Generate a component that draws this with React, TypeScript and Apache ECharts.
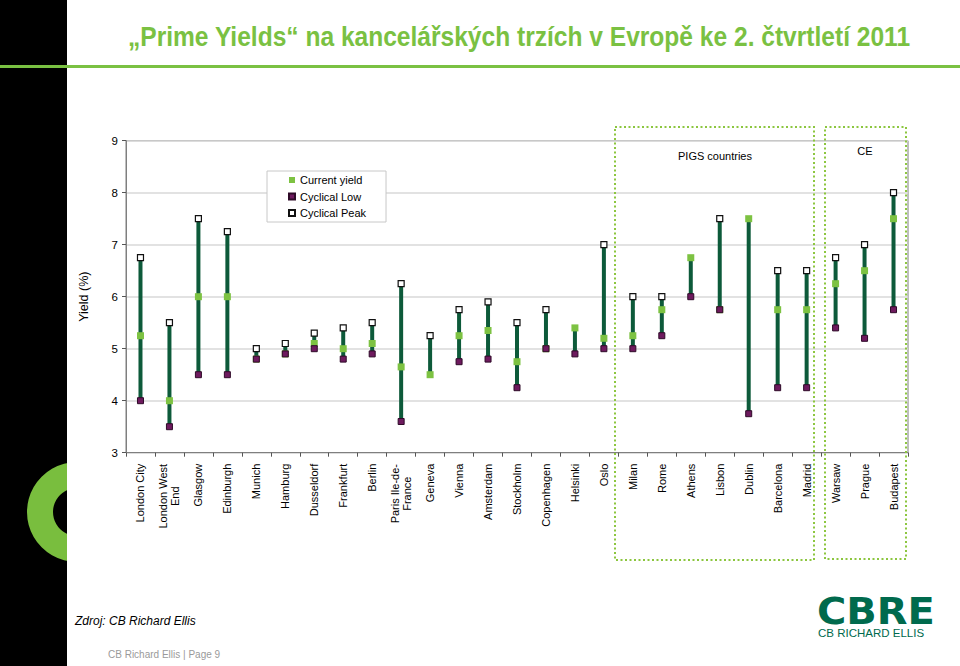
import React, { useEffect, useRef } from "react";
import * as echarts from "echarts";

const categories = [
  "London City", "London West\nEnd", "Glasgow", "Edinburgh", "Munich", "Hamburg",
  "Dusseldorf", "Frankfurt", "Berlin", "Paris Ile-de-\nFrance", "Geneva", "Vienna",
  "Amsterdam", "Stockholm", "Copenhagen", "Helsinki", "Oslo", "Milan", "Rome",
  "Athens", "Lisbon", "Dublin", "Barcelona", "Madrid", "Warsaw", "Prague", "Budapest",
];

const currentYield = [
  5.25, 4.0, 6.0, 6.0, 4.8, 4.9, 5.1, 5.0, 5.1, 4.65, 4.5, 5.25, 5.35, 4.75, 5.0,
  5.4, 5.2, 5.25, 5.75, 6.75, 5.75, 7.5, 5.75, 5.75, 6.25, 6.5, 7.5,
];

const cyclicalLow = [
  4.0, 3.5, 4.5, 4.5, 4.8, 4.9, 5.0, 4.8, 4.9, 3.6, null, 4.75, 4.8, 4.25, 5.0,
  4.9, 5.0, 5.0, 5.25, 6.0, 5.75, 3.75, 4.25, 4.25, 5.4, 5.2, 5.75,
];

const cyclicalPeak = [
  6.75, 5.5, 7.5, 7.25, 5.0, 5.1, 5.3, 5.4, 5.5, 6.25, 5.25, 5.75, 5.9, 5.5, 5.75,
  null, 7.0, 6.0, 6.0, null, 7.5, null, 6.5, 6.5, 6.75, 7.0, 8.0,
];

const yTicks = { min: 3, max: 9, interval: 1 };

const GREEN = "#7ac142";
const DARK_GREEN = "#0d5a3a";
const PURPLE = "#6e1a5e";
const CBRE_GREEN = "#006a4d";

export default function App() {
  const ref = useRef<HTMLDivElement>(null);

  useEffect(() => {
    if (!ref.current) return;
    const chart = echarts.init(ref.current, null, { renderer: "svg" });

    const rangeData = categories.map((_, i) => {
      const vals = [currentYield[i], cyclicalLow[i], cyclicalPeak[i]].filter(
        (v) => v !== null && v !== undefined
      ) as number[];
      return [i, Math.min(...vals), Math.max(...vals)];
    });

    const option: any = {
      animation: false,
      backgroundColor: "#ffffff",
      textStyle: { fontFamily: "Liberation Sans, Arial, sans-serif" },
      grid: {
        left: 126,
        right: 52,
        top: 140.7,
        bottom: 213.3,
        show: true,
        borderColor: "#7f7f7f",
        borderWidth: 1,
        outerBoundsMode: "none",
        containLabel: false,
      },
      legend: {
        orient: "vertical",
        left: 267,
        top: 171,
        padding: [3, 20, 3, 21],
        itemWidth: 6,
        itemHeight: 6,
        itemGap: 4.5,
        borderColor: "#c8c8c8",
        borderWidth: 1,
        backgroundColor: "#ffffff",
        textStyle: { fontSize: 11, color: "#000", lineHeight: 12, fontFamily: "Liberation Sans" },
        data: [
          { name: "Current yield", icon: "rect" },
          { name: "Cyclical Low", icon: "rect" },
          { name: "Cyclical Peak", icon: "rect" },
        ],
      },
      xAxis: {
        type: "category",
        data: categories,
        boundaryGap: true,
        axisLine: { lineStyle: { color: "#7f7f7f", width: 1 } },
        axisTick: { show: true, length: 4, lineStyle: { color: "#555" } },
        axisLabel: {
          rotate: 90,
          interval: 0,
          margin: 11,
          fontSize: 11,
          color: "#000",
          fontFamily: "Liberation Sans",
          formatter: (v: string) => {
            if (v.indexOf("\n") < 0) return v;
            const parts = v.split("\n");
            const key = v.startsWith("London") ? "a" : "b";
            return parts.map((p) => `{${key}|${p}}`).join("\n");
          },
          rich: {
            a: { width: 65, align: "center", fontSize: 11, lineHeight: 12 },
            b: { width: 60, align: "center", fontSize: 11, lineHeight: 12 },
          },
        },
        splitLine: { show: false },
      },
      yAxis: {
        type: "value",
        min: yTicks.min,
        max: yTicks.max,
        interval: yTicks.interval,
        name: "Yield (%)",
        nameLocation: "middle",
        nameGap: 36,
        nameTextStyle: { fontSize: 12.5, color: "#000", fontFamily: "Liberation Sans" },
        axisLine: { show: true, lineStyle: { color: "#7f7f7f" } },
        axisTick: { show: true, length: 4, lineStyle: { color: "#555" } },
        axisLabel: { fontSize: 11.5, color: "#000", margin: 8, fontFamily: "Liberation Sans" },
        splitLine: { show: true, lineStyle: { color: "#d9d9d9", width: 1.5 } },
      },
      series: [
        {
          type: "custom",
          name: "range",
          data: rangeData,
          encode: { x: 0, y: [1, 2] },
          z: 1,
          renderItem: (params: any, api: any) => {
            const x = api.value(0);
            const p1 = api.coord([x, api.value(1)]);
            const p2 = api.coord([x, api.value(2)]);
            return {
              type: "line",
              shape: { x1: p1[0], y1: p1[1], x2: p2[0], y2: p2[1] },
              style: { stroke: DARK_GREEN, lineWidth: 4 },
            };
          },
        },
        {
          type: "scatter",
          name: "Cyclical Peak",
          data: cyclicalPeak,
          symbol: "rect",
          symbolSize: 6,
          z: 2,
          itemStyle: { color: "#ffffff", borderColor: "#111", borderWidth: 1.2, opacity: 1 },
        },
        {
          type: "scatter",
          name: "Current yield",
          data: currentYield,
          symbol: "rect",
          symbolSize: 7,
          z: 3,
          itemStyle: { color: "#7dc242", opacity: 1 },
        },
        {
          type: "scatter",
          name: "Cyclical Low",
          data: cyclicalLow,
          symbol: "rect",
          symbolSize: 6,
          z: 4,
          itemStyle: { color: PURPLE, borderColor: "#2e0a28", borderWidth: 1, opacity: 1 },
        },
      ],
      graphic: [
        { type: "rect", shape: { x: 0, y: 0, width: 67, height: 666 }, style: { fill: "#000" }, z: -10 },
        {
          type: "ring",
          shape: { cx: 77, cy: 512, r: 50, r0: 24 },
          style: { fill: "#79be3e" },
          z: -9,
        },
        { type: "rect", shape: { x: 67, y: 458, width: 60, height: 110 }, style: { fill: "#fff" }, z: -8 },
        { type: "rect", shape: { x: 0, y: 65, width: 960, height: 3 }, style: { fill: GREEN }, z: 0 },
        {
          type: "text",
          x: 128,
          y: 37,
          scaleX: 0.91,
          style: {
            text: "\u201EPrime Yields\u201C na kancelářských trzích v Evropě ke 2. čtvrtletí 2011",
            fontFamily: "Liberation Sans Narrow, Liberation Sans",
            fontWeight: "bold",
            fontSize: 27,
            fill: GREEN,
            textAlign: "left",
            textVerticalAlign: "middle",
          },
        },
        {
          type: "rect",
          shape: { x: 615, y: 127, width: 199, height: 433 },
          style: { fill: "none", stroke: "#8cc63f", lineWidth: 2, lineDash: [2, 2.5] },
          z: 5,
        },
        {
          type: "rect",
          shape: { x: 825, y: 127, width: 81, height: 432 },
          style: { fill: "none", stroke: "#8cc63f", lineWidth: 2, lineDash: [2, 2.5] },
          z: 5,
        },
        {
          type: "text",
          x: 715,
          y: 156,
          style: {
            text: "PIGS countries",
            fontSize: 11,
            fontFamily: "Liberation Sans",
            fill: "#000",
            textAlign: "center",
            textVerticalAlign: "middle",
          },
        },
        {
          type: "text",
          x: 865,
          y: 151,
          style: {
            text: "CE",
            fontSize: 11,
            fontFamily: "Liberation Sans",
            fill: "#000",
            textAlign: "center",
            textVerticalAlign: "middle",
          },
        },
        {
          type: "text",
          x: 75,
          y: 621,
          style: {
            text: "Zdroj: CB Richard Ellis",
            fontSize: 12,
            fontStyle: "italic",
            fontFamily: "Liberation Sans",
            fill: "#000",
            textVerticalAlign: "middle",
          },
        },
        {
          type: "text",
          x: 108,
          y: 654,
          style: {
            text: "CB Richard Ellis | Page 9",
            fontSize: 10,
            fontFamily: "Liberation Sans",
            fill: "#9a9a9a",
            textVerticalAlign: "middle",
          },
        },
        {
          type: "text",
          x: 817,
          y: 611,
          scaleX: 1.08,
          style: {
            text: "CBRE",
            fontSize: 37,
            lineHeight: 27,
            fontWeight: "bold",
            fontFamily: "DejaVu Sans",
            fill: CBRE_GREEN,
            textVerticalAlign: "middle",
          },
        },
        {
          type: "text",
          x: 818,
          y: 633,
          style: {
            text: "CB RICHARD ELLIS",
            fontSize: 11.5,
            lineHeight: 11,
            fontFamily: "Liberation Sans",
            fill: CBRE_GREEN,
            textVerticalAlign: "middle",
          },
        },
      ],
    };

    chart.setOption(option);
    return () => chart.dispose();
  }, []);

  return (
    <div
      ref={ref}
      style={{ position: "fixed", left: 0, top: 0, width: 960, height: 666, background: "#fff" }}
    />
  );
}
